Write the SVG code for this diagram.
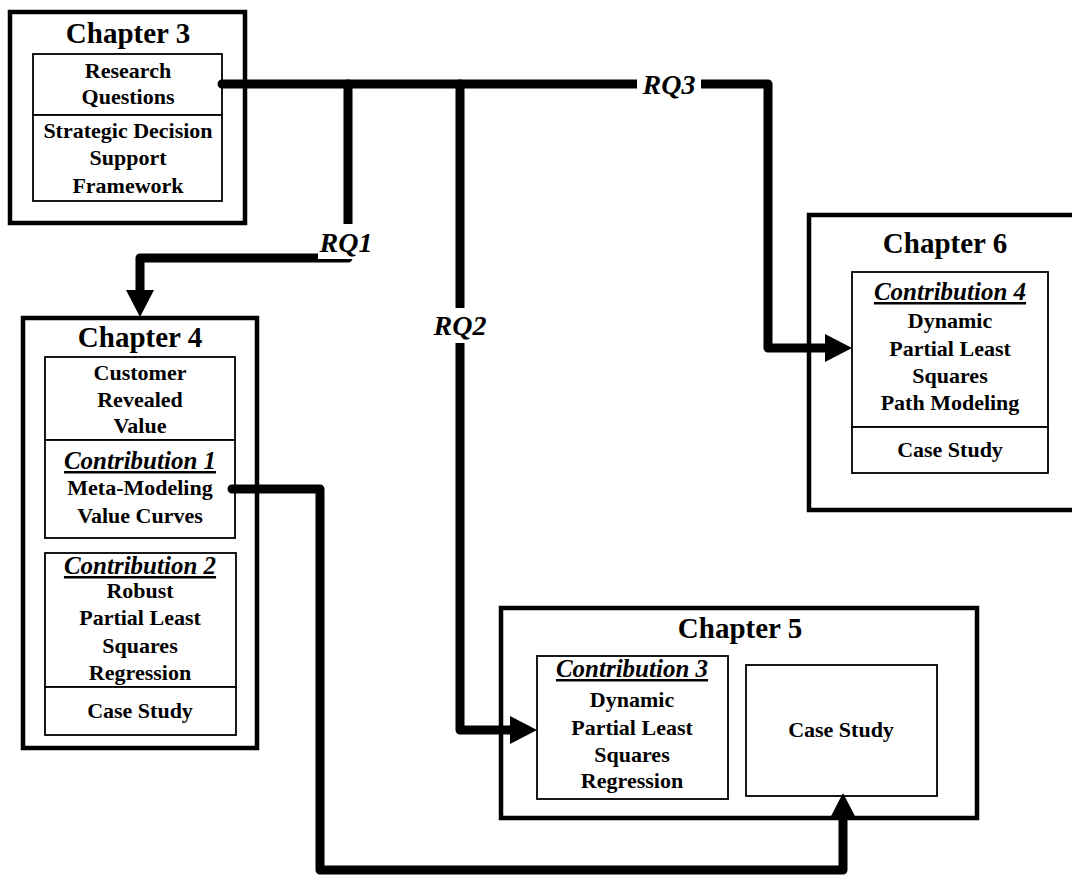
<svg xmlns="http://www.w3.org/2000/svg" width="1072" height="878" viewBox="0 0 1072 878">
  <style>
    .outer { fill: #ffffff; stroke: #000000; stroke-width: 4.5; }
    .inner { fill: #ffffff; stroke: #000000; stroke-width: 1.8; }
    .title { font-family: "Liberation Serif", "Times New Roman", serif; font-weight: bold; font-size: 29px; text-anchor: middle; fill: #000; }
    .body { font-family: "Liberation Serif", "Times New Roman", serif; font-weight: bold; font-size: 22px; text-anchor: middle; fill: #000; }
    .contrib { font-family: "Liberation Serif", "Times New Roman", serif; font-weight: bold; font-style: italic; font-size: 25px; text-anchor: middle; text-decoration: underline; fill: #000; }
    .rq { font-family: "Liberation Serif", "Times New Roman", serif; font-weight: bold; font-style: italic; font-size: 28px; text-anchor: middle; fill: #000; }
    .wire { fill: none; stroke: #000000; stroke-width: 9; stroke-linecap: round; stroke-linejoin: round; }
    .mask { fill: #ffffff; stroke: none; }
  </style>
  <defs>
    <marker id="head" markerUnits="userSpaceOnUse" markerWidth="28" markerHeight="28" refX="0" refY="14" orient="auto" overflow="visible">
      <path d="M0,0 L27,14 L0,28 Z" fill="#000000"/>
    </marker>
  </defs>

  <!-- Chapter 3 -->
  <g id="chapter3">
    <rect class="outer" x="10" y="12" width="235" height="211"/>
    <text class="title" x="128" y="43">Chapter 3</text>
    <rect class="inner" x="33" y="54" width="189" height="61"/>
    <text class="body" x="128" y="78">Research</text>
    <text class="body" x="128" y="104">Questions</text>
    <rect class="inner" x="33" y="115" width="189" height="86"/>
    <text class="body" x="128" y="138">Strategic Decision</text>
    <text class="body" x="128" y="165">Support</text>
    <text class="body" x="128" y="193">Framework</text>
  </g>

  <!-- Chapter 4 -->
  <g id="chapter4">
    <rect class="outer" x="23" y="318" width="234" height="430"/>
    <text class="title" x="140" y="347">Chapter 4</text>
    <rect class="inner" x="45" y="357" width="190" height="83"/>
    <text class="body" x="140" y="380">Customer</text>
    <text class="body" x="140" y="407">Revealed</text>
    <text class="body" x="140" y="433">Value</text>
    <rect class="inner" x="45" y="440" width="190" height="98"/>
    <text class="contrib" x="140" y="469">Contribution 1</text>
    <text class="body" x="140" y="495">Meta-Modeling</text>
    <text class="body" x="140" y="523">Value Curves</text>
    <rect class="inner" x="45" y="553" width="191" height="134"/>
    <text class="contrib" x="140" y="574">Contribution 2</text>
    <text class="body" x="140" y="598">Robust</text>
    <text class="body" x="140" y="625">Partial Least</text>
    <text class="body" x="140" y="653">Squares</text>
    <text class="body" x="140" y="680">Regression</text>
    <rect class="inner" x="45" y="687" width="191" height="48"/>
    <text class="body" x="140" y="718">Case Study</text>
  </g>

  <!-- Chapter 5 -->
  <g id="chapter5">
    <rect class="outer" x="501" y="608" width="476" height="210"/>
    <text class="title" x="740" y="638">Chapter 5</text>
    <rect class="inner" x="537" y="656" width="191" height="143"/>
    <text class="contrib" x="632" y="677">Contribution 3</text>
    <text class="body" x="632" y="707">Dynamic</text>
    <text class="body" x="632" y="735">Partial Least</text>
    <text class="body" x="632" y="762">Squares</text>
    <text class="body" x="632" y="788">Regression</text>
    <rect class="inner" x="746" y="665" width="191" height="131"/>
    <text class="body" x="841" y="737">Case Study</text>
  </g>

  <!-- Chapter 6 -->
  <g id="chapter6">
    <rect class="outer" x="809" y="215" width="272" height="295"/>
    <text class="title" x="945" y="253">Chapter 6</text>
    <rect class="inner" x="852" y="272" width="196" height="155"/>
    <text class="contrib" x="950" y="300">Contribution 4</text>
    <text class="body" x="950" y="328">Dynamic</text>
    <text class="body" x="950" y="356">Partial Least</text>
    <text class="body" x="950" y="383">Squares</text>
    <text class="body" x="950" y="410">Path Modeling</text>
    <rect class="inner" x="852" y="427" width="196" height="46"/>
    <text class="body" x="950" y="457">Case Study</text>
  </g>

  <!-- Connectors -->
  <g id="connectors">
    <!-- RQ3 trunk to Chapter 6 -->
    <path class="wire" d="M222,84 H768 V348 H825" marker-end="url(#head)"/>
    <!-- RQ1 branch to Chapter 4 -->
    <path class="wire" d="M348,84 V258 H140 V290" marker-end="url(#head)"/>
    <!-- RQ2 branch to Contribution 3 -->
    <path class="wire" d="M460,84 V730 H510" marker-end="url(#head)"/>
    <!-- Contribution 1 to Chapter 5 case study -->
    <path class="wire" d="M232,489 H320 V870 H843 V820" marker-end="url(#head)"/>

    <!-- label backgrounds and labels -->
    <rect class="mask" x="637" y="70" width="64" height="28"/>
    <text class="rq" x="669" y="94">RQ3</text>
    <rect class="mask" x="318" y="224" width="57" height="35"/>
    <text class="rq" x="346" y="252">RQ1</text>
    <rect class="mask" x="430" y="308" width="60" height="35"/>
    <text class="rq" x="460" y="335">RQ2</text>
  </g>
</svg>
